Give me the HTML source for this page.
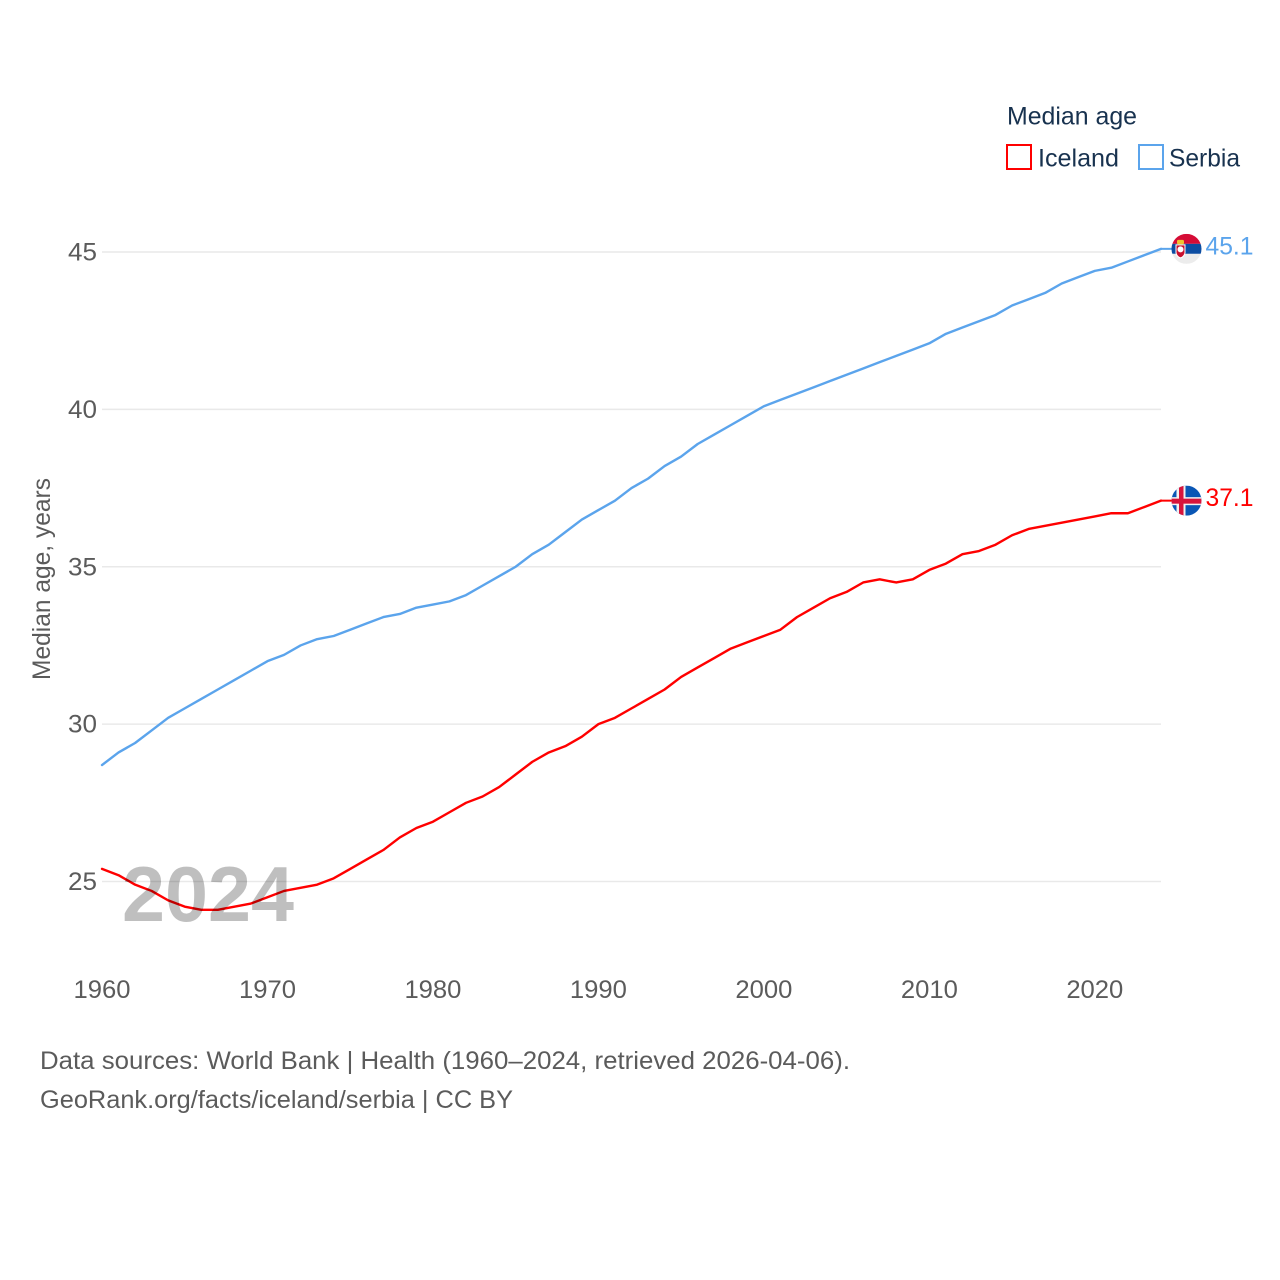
<!DOCTYPE html>
<html lang="en">
<head>
<meta charset="utf-8">
<title>Median age: Iceland and Serbia</title>
<style>
html,body{margin:0;padding:0;background:#fff;}
svg{display:block;font-family:"Liberation Sans",sans-serif;}
</style>
</head>
<body>
<svg id="chart" width="1280" height="1280" viewBox="0 0 1280 1280" xmlns="http://www.w3.org/2000/svg">
  <defs>
    <clipPath id="flag-clip"><circle cx="0" cy="0" r="15"></circle></clipPath>
  </defs>
  <rect x="0" y="0" width="1280" height="1280" fill="#fff"></rect>
  <g id="grid"></g>
  <g id="y-ticks"></g>
  <g id="x-ticks"></g>
  <text transform="translate(50 579) rotate(-90)" text-anchor="middle" font-size="25" fill="#5b5b5b" textLength="202" lengthAdjust="spacingAndGlyphs">Median age, years</text>
  <g id="series"></g>
  <text x="122" y="921" font-size="78" font-weight="bold" fill="#000" fill-opacity="0.25" textLength="172" lengthAdjust="spacingAndGlyphs">2024</text>

  <g id="flag-serbia">
    <g clip-path="url(#flag-clip)">
      <rect x="-15" y="-15" width="30" height="10" fill="#d50c36"></rect>
      <rect x="-15" y="-5" width="30" height="10" fill="#0c4da2"></rect>
      <rect x="-15" y="5" width="30" height="10" fill="#ececec"></rect>
      <path d="M-10.5 -4 h9 v8 q-1 4 -4.5 5 q-3.5 -1 -4.5 -5z" fill="#c8102e" stroke="#fff" stroke-width="1"></path>
      <circle cx="-6" cy="0.5" r="3" fill="#fff"></circle>
      <rect x="-9.5" y="-9" width="7" height="4.5" rx="1.5" fill="#f2c230"></rect>
    </g>
  </g>
  <g id="flag-iceland">
    <g clip-path="url(#flag-clip)">
      <rect x="-15" y="-15" width="30" height="30" fill="#0a56b5"></rect>
      <rect x="-15" y="-3.5" width="30" height="8" fill="#f1f1f1"></rect>
      <rect x="-10" y="-15" width="9" height="30" fill="#f1f1f1"></rect>
      <rect x="-15" y="-2" width="30" height="5" fill="#d7143c"></rect>
      <rect x="-7.5" y="-15" width="4.5" height="30" fill="#d7143c"></rect>
    </g>
  </g>
  <g id="end-labels"></g>

  <g>
    <text x="1007" y="124.5" font-size="25" fill="#18324f" textLength="130" lengthAdjust="spacingAndGlyphs">Median age</text>
    <rect x="1007" y="145" width="24" height="24" fill="#fff" stroke="#ff0000" stroke-width="2"></rect>
    <text x="1038" y="166.5" font-size="25" fill="#18324f" textLength="81" lengthAdjust="spacingAndGlyphs">Iceland</text>
    <rect x="1139" y="145" width="24" height="24" fill="#fff" stroke="#5ba4ec" stroke-width="2"></rect>
    <text x="1169" y="166.5" font-size="25" fill="#18324f" textLength="71" lengthAdjust="spacingAndGlyphs">Serbia</text>
  </g>

  <text x="40" y="1069" font-size="25" fill="#5b5b5b" textLength="810" lengthAdjust="spacingAndGlyphs">Data sources: World Bank | Health (1960–2024, retrieved 2026-04-06).</text>
  <text x="40" y="1108" font-size="25" fill="#5b5b5b" textLength="473" lengthAdjust="spacingAndGlyphs">GeoRank.org/facts/iceland/serbia | CC BY</text>
</svg>
<script>
const startYear = 1960;
const icelandValues = [
  25.4,25.2,24.9,24.7,24.4,24.2,24.1,24.1,24.2,24.3,
  24.5,24.7,24.8,24.9,25.1,25.4,25.7,26.0,26.4,26.7,
  26.9,27.2,27.5,27.7,28.0,28.4,28.8,29.1,29.3,29.6,
  30.0,30.2,30.5,30.8,31.1,31.5,31.8,32.1,32.4,32.6,
  32.8,33.0,33.4,33.7,34.0,34.2,34.5,34.6,34.5,34.6,
  34.9,35.1,35.4,35.5,35.7,36.0,36.2,36.3,36.4,36.5,
  36.6,36.7,36.7,36.9,37.1
];
const serbiaValues = [
  28.7,29.1,29.4,29.8,30.2,30.5,30.8,31.1,31.4,31.7,
  32.0,32.2,32.5,32.7,32.8,33.0,33.2,33.4,33.5,33.7,
  33.8,33.9,34.1,34.4,34.7,35.0,35.4,35.7,36.1,36.5,
  36.8,37.1,37.5,37.8,38.2,38.5,38.9,39.2,39.5,39.8,
  40.1,40.3,40.5,40.7,40.9,41.1,41.3,41.5,41.7,41.9,
  42.1,42.4,42.6,42.8,43.0,43.3,43.5,43.7,44.0,44.2,
  44.4,44.5,44.7,44.9,45.1
];
const xTickYears = [1960,1970,1980,1990,2000,2010,2020];
const yTickValues = [25,30,35,40,45];

const NS = 'http://www.w3.org/2000/svg';
function xScale(year){ return 102 + (year - 1960) * (1161 - 102) / 64; }
function yScale(v){ return 881.5 - (v - 25) * (881.5 - 252) / 20; }
function make(tag, attrs, parent, text){
  const el = document.createElementNS(NS, tag);
  for (const k in attrs) el.setAttribute(k, attrs[k]);
  if (text !== undefined) el.textContent = text;
  parent.appendChild(el);
  return el;
}

const gridG = document.getElementById('grid');
const yG = document.getElementById('y-ticks');
const xG = document.getElementById('x-ticks');
const seriesG = document.getElementById('series');
const labelG = document.getElementById('end-labels');

yTickValues.forEach(function(v){
  const line = make('line', {x1:102, x2:1161, y1:yScale(v), y2:yScale(v), stroke:'#e9e9e9', 'stroke-width':1.5}, gridG);
  
  
  const label = make('text', {x:68, y:yScale(v) + 8.5, 'font-size':25, fill:'#5b5b5b', textLength:29, lengthAdjust:'spacingAndGlyphs'}, yG, String(v));
  
  
});

xTickYears.forEach(function(year){
  const label = make('text', {x:xScale(year) - 28.5, y:998, 'font-size':25, fill:'#5b5b5b', textLength:57, lengthAdjust:'spacingAndGlyphs'}, xG, String(year));
  
  
});

function drawSeries(values, color, key){
  const pts = values.map(function(v, i){
    return xScale(startYear + i).toFixed(2) + ',' + yScale(v).toFixed(2);
  });
  const line = make('polyline', {points:pts.join(' '), fill:'none', stroke:color, 'stroke-width':2.4, 'stroke-linejoin':'round', 'stroke-linecap':'round'}, seriesG);
  
  
  const lastValue = values[values.length - 1];
  const lastX = xScale(startYear + values.length - 1);
  const lastY = yScale(lastValue);
  const connector = make('line', {x1:lastX, x2:lastX + 12, y1:lastY, y2:lastY, stroke:color, 'stroke-width':2}, seriesG);
  
  
  document.getElementById('flag-' + key).setAttribute('transform', 'translate(' + (lastX + 25.5) + ' ' + lastY + ')');
  const label = make('text', {x:lastX + 44.5, y:lastY + 5.5, 'font-size':25, fill:color, textLength:48, lengthAdjust:'spacingAndGlyphs'}, labelG, lastValue.toFixed(1));
  
  
}
drawSeries(serbiaValues, '#5ba4ec', 'serbia');
drawSeries(icelandValues, '#ff0000', 'iceland');
</script>
</body>
</html>
